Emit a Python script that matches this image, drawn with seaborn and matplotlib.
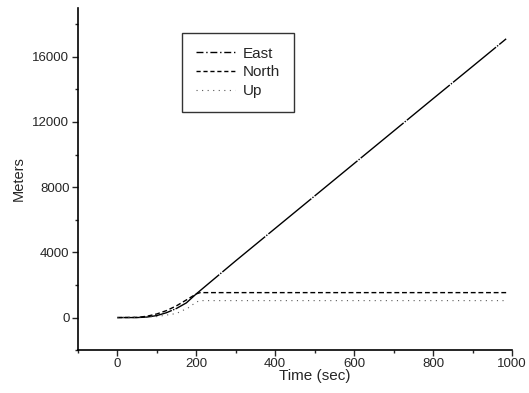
import matplotlib
matplotlib.use("Agg")
import matplotlib.pyplot as plt
import numpy as np
import pandas as pd
import seaborn as sns
from matplotlib.ticker import MultipleLocator

# values
east_t = [0, 50, 75, 100, 125, 150, 175, 200, 300, 400, 500, 600, 700, 800, 900, 985]
east_m = [0, 0, 30, 120, 300, 560, 900, 1450, 3480, 5470, 7460, 9450, 11440, 13430, 15410, 17100]

north_t = [0, 50, 75, 100, 125, 150, 175, 200, 210, 400, 600, 800, 985]
north_m = [0, 10, 80, 220, 430, 720, 1080, 1450, 1530, 1530, 1530, 1530, 1530]

up_t = [0, 100, 150, 180, 200, 210, 400, 600, 800, 985]
up_m = [0, 60, 250, 600, 950, 1040, 1040, 1040, 1040, 1040]

sns.set_style("ticks")
plt.rcParams['font.family'] = ['Liberation Sans', 'DejaVu Sans']

fig = plt.figure(figsize=(5.29, 3.93), dpi=100)
ax = fig.add_axes([0.147, 0.109, 0.821, 0.871])

sns.lineplot(x=east_t, y=east_m, ax=ax, color='black', lw=1.0, label='East')
sns.lineplot(x=north_t, y=north_m, ax=ax, color='black', lw=1.0, label='North')
sns.lineplot(x=up_t, y=up_m, ax=ax, color='0.35', lw=0.8, label='Up')
lines = ax.get_lines()
lines[0].set_linestyle((0, (40, 1, 1, 1)))
lines[1].set_linestyle((0, (3.5, 2)))
lines[2].set_linestyle((0, (1, 4)))

ax.set_xlim(-100, 1000)
ax.set_ylim(-2000, 19000)
ax.xaxis.set_major_locator(MultipleLocator(200))
ax.xaxis.set_minor_locator(MultipleLocator(100))
ax.yaxis.set_major_locator(MultipleLocator(4000))
ax.yaxis.set_minor_locator(MultipleLocator(2000))
ax.tick_params(which='major', length=4, width=1, labelsize=9.5, direction='out', pad=2)
ax.tick_params(which='minor', length=2, width=1, direction='out')
sns.despine(ax=ax)
for s in ['left', 'bottom']:
    ax.spines[s].set_color('black')
    ax.spines[s].set_linewidth(1.2)

ax.set_xlabel('Time (sec)', fontsize=11)
ax.xaxis.set_label_coords(0.545, -0.055)
ax.set_ylabel('Meters', fontsize=10.5, labelpad=5)

leg = ax.legend(loc='upper left', bbox_to_anchor=(0.24, 0.927), fontsize=11,
                frameon=True, fancybox=False, handlelength=2.6, handletextpad=0.5,
                labelspacing=0.32, borderpad=0.9, borderaxespad=0)
leg.get_frame().set_edgecolor('black')
leg.get_frame().set_linewidth(1.0)
# legend keys as in the original: dash-dot / dash / dot
leg.get_lines()[0].set_linestyle((0, (5, 2, 1, 2)))
leg.get_lines()[1].set_linestyle((0, (3, 2)))
leg.get_lines()[2].set_linestyle((0, (1, 4)))

fig.savefig('out.png', dpi=100)
